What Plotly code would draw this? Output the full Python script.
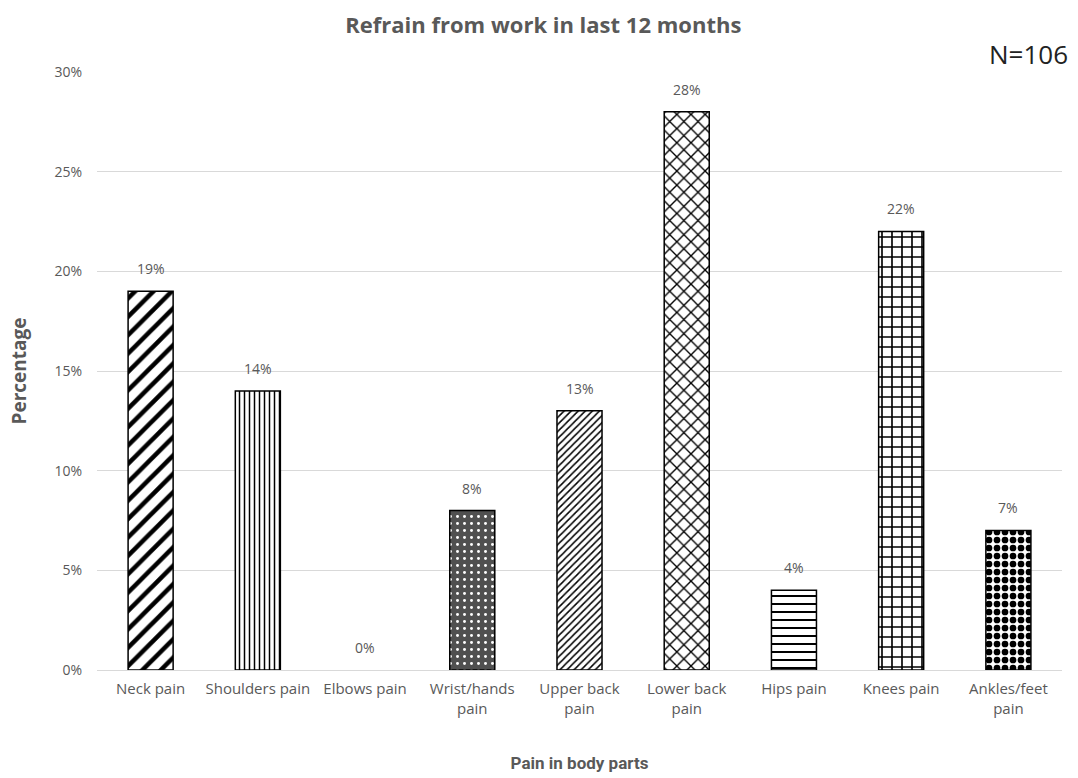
import plotly.graph_objects as go

# Share of respondents who refrained from work, by painful body part
categories = ["Neck pain", "Shoulders pain", "Elbows pain", "Wrist/hands<br>pain",
              "Upper back<br>pain", "Lower back<br>pain", "Hips pain", "Knees pain",
              "Ankles/feet<br>pain"]
values = [19, 14, 0, 8, 13, 28, 4, 22, 7]
value_labels = [f"{v}%" for v in values]

y_ticks = [0, 5, 10, 15, 20, 25, 30]
y_tick_labels = [f"{t}%" for t in y_ticks]

# Fill pattern for each bar
shapes = ["/", "|", "", ".", "/", "x", "-", "+", "."]
fg = ["black", "black", "black", "white", "black", "black", "black", "black", "black"]
bg = ["white", "white", "white", "#505050", "white", "white", "white", "white", "white"]
sizes = [13, 5, 8, 7, 5, 10, 8, 10, 8]
solid = [0.35, 0.3, 0.3, 0.14, 0.3, 0.25, 0.25, 0.3, 0.55]
# empty bars get no outline
outline = [1.5 if v > 0 else 0 for v in values]

FONT = "Open Sans, sans-serif"
NARROW = "Roboto, Open Sans, sans-serif"
GREY = "#595959"

fig = go.Figure(go.Bar(
    x=categories,
    y=values,
    marker=dict(
        color="white",
        line=dict(color="black", width=outline),
        pattern=dict(shape=shapes, fgcolor=fg, bgcolor=bg, size=sizes,
                     solidity=solid, fillmode="replace"),
    ),
    hoverinfo="x+y",
))

# Value labels sit a little above each bar top
label_notes = [
    dict(x=c, y=v, text=t, xref="x", yref="y", showarrow=False,
         yanchor="bottom", yshift=11,
         font=dict(family=FONT, size=14, color=GREY))
    for c, v, t in zip(categories, values, value_labels)
]

fig.update_layout(
    width=1078, height=778,
    paper_bgcolor="white", plot_bgcolor="white",
    margin=dict(l=97, r=16, t=72, b=108),
    bargap=0.58,
    showlegend=False,
    font=dict(family=FONT, color=GREY),
    title=dict(text="<b>Refrain from work in last 12 months</b>",
               x=0.504, xanchor="center", y=0.968, yanchor="middle",
               font=dict(family=FONT, size=22, color=GREY)),
    annotations=label_notes + [
        dict(text="N=106", xref="paper", yref="paper", x=1.008, y=1.03,
             xanchor="right", yanchor="middle", showarrow=False,
             font=dict(family=FONT, size=26, color="#222222"))],
)

fig.update_yaxes(
    range=[0, 30], tickmode="array", tickvals=y_ticks, ticktext=y_tick_labels,
    showgrid=True, gridcolor="#d9d9d9", gridwidth=1,
    zeroline=True, zerolinecolor="#d9d9d9", zerolinewidth=1,
    tickfont=dict(family=FONT, size=14, color=GREY),
    ticks="", ticklabelstandoff=14, automargin=False,
    title=dict(text="<b>Percentage</b>", font=dict(family=FONT, size=19, color=GREY),
               standoff=22),
)
fig.update_xaxes(
    showline=False, ticks="", automargin=False,
    tickfont=dict(family=FONT, size=15, color=GREY),
    ticklabelstandoff=8,
    title=dict(text="<b>Pain in body parts</b>", font=dict(family=NARROW, size=17, color=GREY),
               standoff=40),
)

fig.write_html("out.html")
